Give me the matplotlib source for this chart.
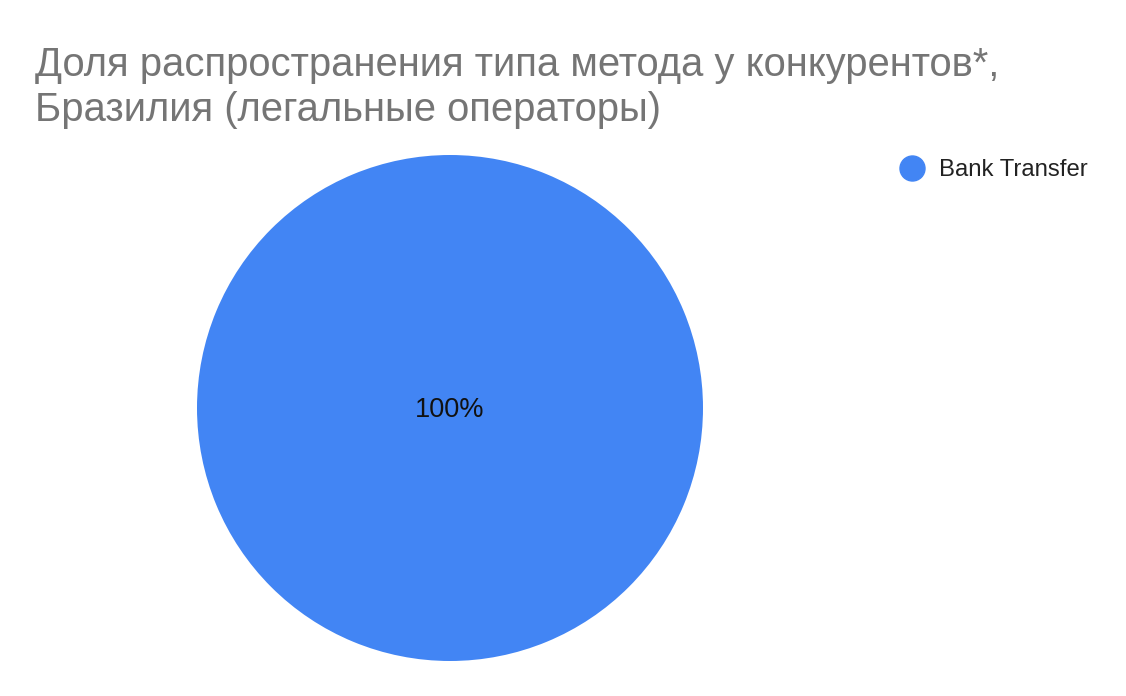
import matplotlib.pyplot as plt
from matplotlib.lines import Line2D

# chart data
categories = ["Bank Transfer"]
shares = [100]
colors = ["#4285F4"]
title = "Доля распространения типа метода у конкурентов*,\nБразилия (легальные операторы)"

W, H = 1126, 696

plt.rcParams['font.family'] = ['Liberation Sans', 'DejaVu Sans']

fig = plt.figure(figsize=(W / 100, H / 100), dpi=100)
fig.patch.set_facecolor('white')

# pie axes, placed in pixels
cx, cy, r = 450, 408, 253
ax = fig.add_axes([(cx - r) / W, (H - cy - r) / H, 2 * r / W, 2 * r / H])
wedges, texts, autotexts = ax.pie(shares, colors=colors, startangle=90, counterclock=False,
                                  autopct='%1.0f%%', pctdistance=0.0, radius=1.0,
                                  textprops={'fontsize': 19.5, 'color': '#111111'})
# nudge the percentage label to the visual centre
for t in autotexts:
    t.set_position((0, -0.008))
ax.set_xlim(-1, 1)
ax.set_ylim(-1, 1)
ax.set_aspect('auto')
ax.axis('off')

fig.text(35 / W, 1 - 46 / H, title, fontsize=28.8, color='#757575', va='top', ha='left',
         linespacing=1.24)

handles = [Line2D([], [], marker='o', linestyle='', markersize=18, color=c) for c in colors]
fig.legend(handles, categories, loc='center left', bbox_to_anchor=(898 / W, 1 - 170 / H),
           frameon=False, fontsize=17.2, handletextpad=0.5, borderpad=0, borderaxespad=0,
           handlelength=1.2, labelcolor='#222222')

fig.savefig('out.png', dpi=100)
